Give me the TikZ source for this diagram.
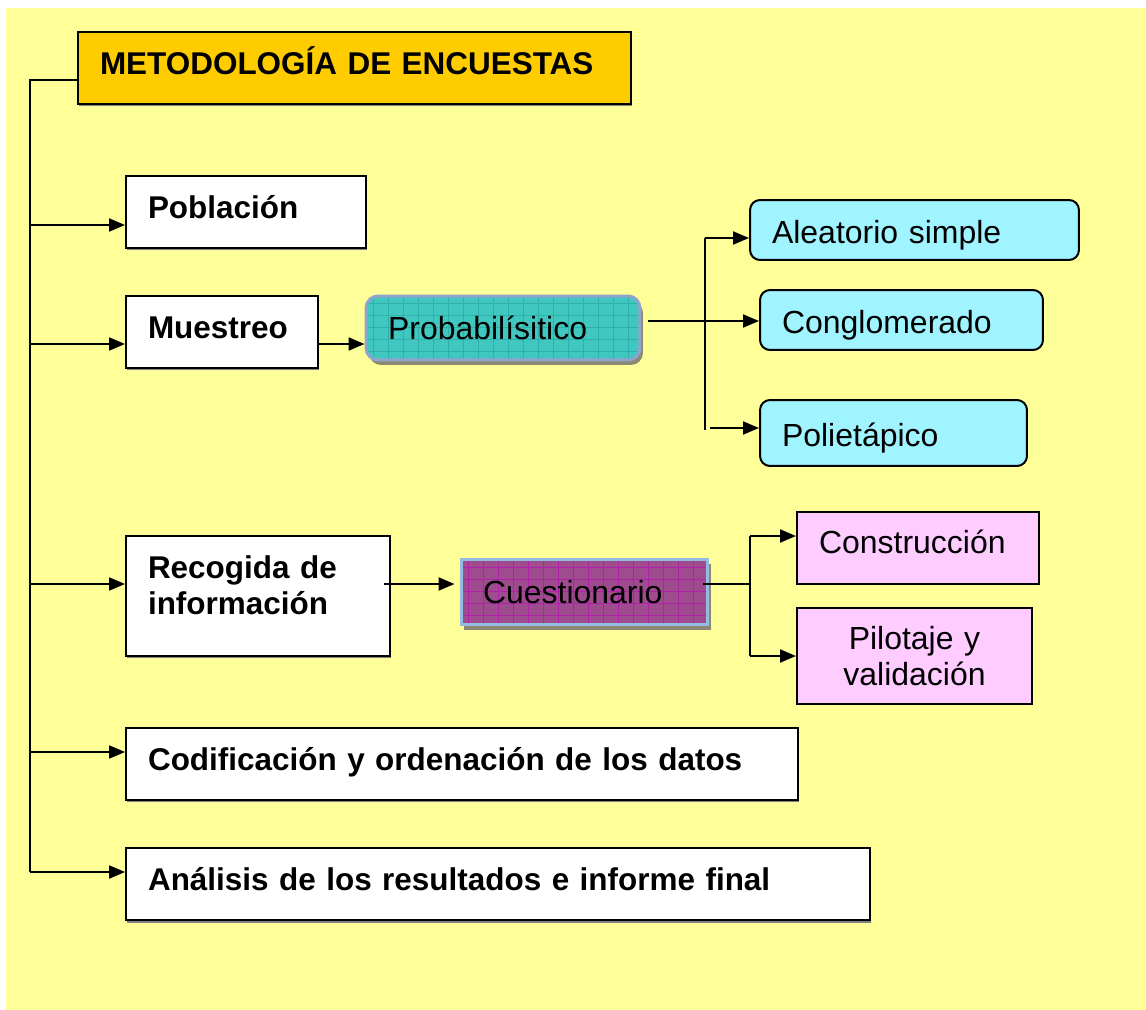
\documentclass[tikz,border=0pt]{standalone}
\usepackage{fontspec}
\setmainfont{Liberation Sans}
\usetikzlibrary{arrows.meta,shadows}
\definecolor{vyellow}{HTML}{FFFF99}
\definecolor{vorange}{HTML}{FFCC00}
\definecolor{vcyan}{HTML}{A0F4FF}
\definecolor{vpink}{HTML}{FFCCFF}
\definecolor{vteal}{HTML}{40C8C0}
\definecolor{vtealgrid}{HTML}{2FB0AC}
\definecolor{vpurple}{HTML}{9E4C8E}
\definecolor{vpurplegrid}{HTML}{B020A8}
\definecolor{vsteel}{HTML}{8FA3CC}
\definecolor{vsky}{HTML}{94BCE0}
\definecolor{vshadow}{HTML}{8A8A74}

\tikzset{
	every node/.style={font=\fontsize{18.2}{20.5}\selectfont, inner xsep=0.44cm, inner ysep=0pt, align=left},
	wbox/.style={draw=black, line width=0.04cm, fill=white, text height=0.5cm, text depth=0.25cm,
		font=\fontsize{17.9}{20.5}\selectfont\bfseries,
		drop shadow={shadow xshift=0.02cm, shadow yshift=-0.05cm, fill=gray, opacity=1}},
	cbox/.style={draw=black, line width=0.04cm, fill=vcyan, rounded corners=0.2cm, text height=0.56cm, text depth=0.02cm},
	pbox/.style={draw=black, line width=0.04cm, fill=vpink},
	gbox/.style={line width=0.06cm,
		drop shadow={shadow xshift=0.06cm, shadow yshift=-0.1cm, fill=vshadow, opacity=1}},
	link/.style={line width=0.04cm},
	arr/.style={link, -{Triangle[length=0.32cm, width=0.26cm]}},
}

\begin{document}
\begin{tikzpicture}[x=0.02cm, y=-0.02cm]
		% encuestas
		\useasboundingbox (0,0) rectangle (1146,1010);
		\fill[white] (0,0) rectangle (1146,1010);
		\fill[vyellow] (6,8) rectangle (1146,1010);

		\node[wbox, fill=vorange, text width=10.18cm, minimum height=1.44cm] (title) at (354.5,68) {METODOLOGÍA DE ENCUESTAS};
		\node[wbox, text width=3.92cm, minimum height=1.44cm] (poblacion) at (246,212) {Población};
		\node[wbox, text width=2.96cm, minimum height=1.44cm] (muestreo) at (222,332) {Muestreo};
		\node[wbox, text width=4.4cm, minimum height=2.4cm, text depth=1.2cm] (recogida) at (258,596) {Recogida de\\información};
		\node[wbox, text width=12.56cm, minimum height=1.44cm] (codificacion) at (462,764) {Codificación y ordenación de los datos};
		\node[wbox, text width=14cm, minimum height=1.44cm] (analisis) at (498,884) {Análisis de los resultados e informe final};

		\node[gbox, draw=vsteel, fill=vteal, rounded corners=0.24cm, text width=4.6cm, minimum height=1.28cm,
			path picture={\draw[vtealgrid, line width=0.01cm, xstep=0.3cm, ystep=0.24cm] (path picture bounding box.south west) grid (path picture bounding box.north east);}]
			(probab) at (503,328) {Probabilísitico};
		\node[gbox, draw=vsky, fill=vpurple, text width=4.06cm, minimum height=1.32cm,
			path picture={\draw[vpurplegrid, line width=0.01cm, xstep=0.3cm, ystep=0.24cm] (path picture bounding box.south west) grid (path picture bounding box.north east);}]
			(cuestionario) at (584.5,592) {Cuestionario};

		\node[cbox, text width=5.7cm, minimum height=1.2cm] (aleatorio) at (914.5,230) {Aleatorio simple};
		\node[cbox, text width=4.78cm, minimum height=1.2cm] (conglomerado) at (901.5,320) {Conglomerado};
		\node[cbox, text width=4.46cm, minimum height=1.32cm] (polietapico) at (893.5,433) {Polietápico};

		\node[pbox, text width=3.96cm, minimum height=1.44cm, text height=0.5cm, text depth=0.3cm] (construccion) at (918,548) {Construcción};
		\node[pbox, text width=3.82cm, minimum height=1.92cm, align=center] (pilotaje) at (914.5,656) {Pilotaje y\\validación};

		% trunk on the left
		\coordinate (t0) at (30,80);
		\coordinate (t1) at (30,225);
		\coordinate (t2) at (30,344);
		\coordinate (t3) at (30,584);
		\coordinate (t4) at (30,752);
		\coordinate (t5) at (30,872);
		\draw[link] (t0 -| title.west) -- (t0) -- (t5);
		\draw[arr] (t1) -- (t1 -| poblacion.west);
		\draw[arr] (t2) -- (t2 -| muestreo.west);
		\draw[arr] (t3) -- (t3 -| recogida.west);
		\draw[arr] (t4) -- (t4 -| codificacion.west);
		\draw[arr] (t5) -- (t5 -| analisis.west);

		% muestreo
		\coordinate (m0) at (0,344);
		\draw[arr] (m0 -| muestreo.east) -- (m0 -| probab.west);
		\coordinate (p0) at (648,321);
		\coordinate (p1) at (705,238);
		\coordinate (p2) at (705,430);
		\coordinate (p3) at (710,428);
		\draw[link] (p1) -- (p2);
		\draw[arr] (p0) -- (p0 -| conglomerado.west);
		\draw[arr] (p1) -- (p1 -| aleatorio.west);
		\draw[arr] (p3) -- (p3 -| polietapico.west);

		% recogida
		\coordinate (r0) at (384,584);
		\draw[arr, shorten >=0.1cm] (r0) -- (r0 -| cuestionario.west);
		\coordinate (q0) at (703,584);
		\coordinate (q1) at (750,536);
		\coordinate (q2) at (750,656);
		\draw[link] (q0) -- (q0 -| q1);
		\draw[link] (q1) -- (q2);
		\draw[arr] (q1) -- (q1 -| construccion.west);
		\draw[arr] (q2) -- (q2 -| pilotaje.west);
	\end{tikzpicture}
\end{document}
